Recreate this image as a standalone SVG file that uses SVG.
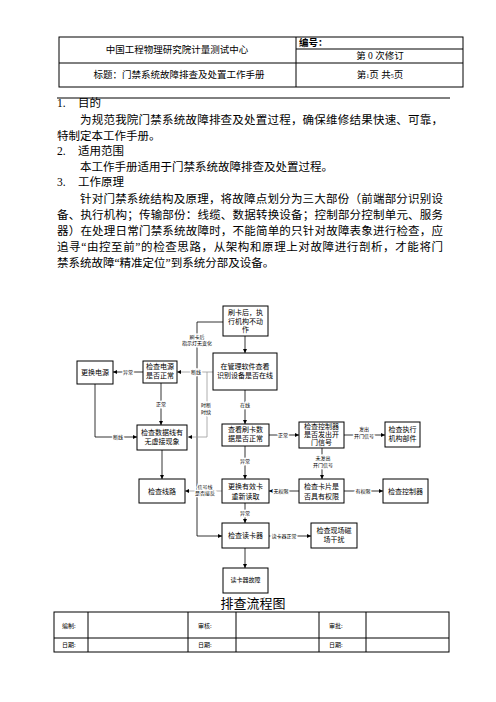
<svg xmlns="http://www.w3.org/2000/svg" width="496" height="702" viewBox="0 0 496 702">
<style>
text{font-family:"Liberation Serif","Noto Sans CJK SC",serif;fill:#000}
.h{font-size:9.5px}
.b{font-size:11.5px}
.n{font-size:7px;text-anchor:middle}
.s{font-size:6px;text-anchor:middle}
.l{font-size:5px;text-anchor:middle;stroke:#fff;stroke-width:2.5px;paint-order:stroke}
.box{fill:#fff;stroke:#000;stroke-width:1}
.c{fill:none;stroke:#000;stroke-width:0.8}
.g{fill:none;stroke:#999;stroke-width:0.8}
.t{fill:none;stroke:#000;stroke-width:1}
</style>
<defs>
<marker id="a" viewBox="0 0 6 6" refX="6" refY="3" markerWidth="4" markerHeight="4" orient="auto" markerUnits="userSpaceOnUse"><path d="M0,0L6,3L0,6z" fill="#000"/></marker>
</defs>
<rect width="496" height="702" fill="#fff"/>
<g id="header">
<rect class="t" x="59" y="37" width="404" height="50"/>
<line class="t" x1="296" y1="37" x2="296" y2="87"/>
<line class="t" x1="59" y1="63" x2="463" y2="63"/>
<line class="t" x1="296" y1="49" x2="463" y2="49"/>
<text class="h" x="177" y="53" text-anchor="middle">中国工程物理研究院计量测试中心</text>
<text class="h" x="179" y="78" text-anchor="middle">标题：门禁系统故障排查及处置工作手册</text>
<text class="h" x="299" y="46" font-weight="bold">编号：</text>
<text class="h" x="380" y="59" text-anchor="middle">第 0 次修订</text>
<text class="h" x="380" y="78" text-anchor="middle">第<tspan font-size="6">1</tspan>页  共<tspan font-size="6">5</tspan>页</text>
<line x1="57" y1="98" x2="450" y2="98" stroke="#000" stroke-width="1"/>
</g>
<g id="body">
<text class="b" x="57" y="107">1.</text><text class="b" x="78" y="107">目的</text>
<text class="b" x="80" y="124" textLength="363" lengthAdjust="spacing">为规范我院门禁系统故障排查及处置过程，确保维修结果快速、可靠，</text>
<text class="b" x="57" y="140">特制定本工作手册。</text>
<text class="b" x="57" y="155">2.</text><text class="b" x="78" y="155">适用范围</text>
<text class="b" x="80" y="171">本工作手册适用于门禁系统故障排查及处置过程。</text>
<text class="b" x="57" y="186">3.</text><text class="b" x="78" y="186">工作原理</text>
<text class="b" x="80" y="203" textLength="363" lengthAdjust="spacing">针对门禁系统结构及原理，将故障点划分为三大部份（前端部分识别设</text>
<text class="b" x="57" y="219" textLength="386" lengthAdjust="spacing">备、执行机构；传输部份：线缆、数据转换设备；控制部分控制单元、服务</text>
<text class="b" x="57" y="235" textLength="386" lengthAdjust="spacing">器）在处理日常门禁系统故障时，不能简单的只针对故障表象进行检查，应</text>
<text class="b" x="57" y="251" textLength="386" lengthAdjust="spacing">追寻“由控至前”的检查思路，从架构和原理上对故障进行剖析，才能将门</text>
<text class="b" x="57" y="267">禁系统故障“精准定位”到系统分部及设备。</text>
</g>
<g id="connectors">
<path class="c" d="M245,336V353" marker-end="url(#a)"/>
<path class="c" d="M223,322H197V536H222" marker-end="url(#a)"/>
<path class="g" d="M213,372H177" marker-end="url(#a)"/>
<path class="g" d="M207,372V437H188" marker-end="url(#a)"/>
<path class="c" d="M143,372H113" marker-end="url(#a)"/>
<path class="c" d="M161,383V425" marker-end="url(#a)"/>
<path class="c" d="M95,384V437H137" marker-end="url(#a)"/>
<path class="c" d="M162,450V479" marker-end="url(#a)"/>
<path class="c" d="M245,390V424" marker-end="url(#a)"/>
<path class="c" d="M245,446V479" marker-end="url(#a)"/>
<path class="g" d="M222,491H185" marker-end="url(#a)"/>
<path class="c" d="M245,503V523" marker-end="url(#a)"/>
<path class="c" d="M269,536H311" marker-end="url(#a)"/>
<path class="c" d="M245,548V568" marker-end="url(#a)"/>
<path class="c" d="M269,435H299" marker-end="url(#a)"/>
<path class="c" d="M344,435H385" marker-end="url(#a)"/>
<path class="c" d="M322,448V479" marker-end="url(#a)"/>
<path class="c" d="M299,491H269" marker-end="url(#a)"/>
<path class="c" d="M344,491H383" marker-end="url(#a)"/>
<text class="l" x="197" y="339">刷卡后</text>
<text class="l" x="197" y="345">指示灯无变化</text>
<text class="l" x="196" y="374">断线</text>
<text class="l" x="206" y="407">时断</text>
<text class="l" x="206" y="414">时续</text>
<text class="l" x="128" y="374">异常</text>
<text class="l" x="161" y="406">正常</text>
<text class="l" x="118" y="439">断线</text>
<text class="l" x="245" y="407">在线</text>
<text class="l" x="245" y="463">异常</text>
<text class="l" x="205" y="489">信号线</text>
<text class="l" x="205" y="495">是否接反</text>
<text class="l" x="245" y="515">异常</text>
<text class="l" x="284" y="538">读卡器正常</text>
<text class="l" x="283" y="437">正常</text>
<text class="l" x="364" y="431">发出</text>
<text class="l" x="364" y="438">开门信号</text>
<text class="l" x="323" y="460">未发出</text>
<text class="l" x="323" y="467">开门信号</text>
<text class="l" x="281" y="493">无权限</text>
<text class="l" x="363" y="493">有权限</text>
</g>
<g id="n1"><rect class="box" x="223" y="306" width="45" height="30"/>
<text class="n" x="245.5" y="315">刷卡后，执</text><text class="n" x="245.5" y="324">行机构不动</text><text class="n" x="245.5" y="332">作</text></g>
<g id="n2"><rect class="box" x="213" y="353" width="64" height="37"/>
<text class="n" x="245" y="369">在管理软件查看</text><text class="n" x="245" y="378">识别设备是否在线</text></g>
<g id="n3"><rect class="box" x="77" y="361" width="36" height="23"/>
<text class="n" x="95" y="375">更换电源</text></g>
<g id="n4"><rect class="box" x="143" y="361" width="34" height="22"/>
<text class="n" x="160" y="369">检查电源</text><text class="n" x="160" y="378">是否正常</text></g>
<g id="n5"><rect class="box" x="137" y="425" width="50" height="25"/>
<text class="n" x="162" y="435">检查数据线有</text><text class="n" x="162" y="444">无虚接现象</text></g>
<g id="n6"><rect class="box" x="139" y="479" width="46" height="24"/>
<text class="n" x="162" y="494">检查线路</text></g>
<g id="n7"><rect class="box" x="222" y="424" width="47" height="22"/>
<text class="n" x="245.5" y="432">查看刷卡数</text><text class="n" x="245.5" y="441">据是否正常</text></g>
<g id="n8"><rect class="box" x="222" y="479" width="47" height="24"/>
<text class="n" x="245.5" y="489">更换有效卡</text><text class="n" x="245.5" y="499">重新读取</text></g>
<g id="n9"><rect class="box" x="222" y="523" width="47" height="25"/>
<text class="n" x="245.5" y="538">检查读卡器</text></g>
<g id="n10"><rect class="box" x="311" y="523" width="46" height="25"/>
<text class="n" x="334" y="533">检查现场磁</text><text class="n" x="334" y="542">场干扰</text></g>
<g id="n11"><rect class="box" x="223" y="568" width="45" height="25"/>
<text class="s" x="245.5" y="582">读卡器故障</text></g>
<g id="n12"><rect class="box" x="299" y="422" width="45" height="26"/>
<text class="n" x="321.5" y="429">检查控制器</text><text class="n" x="321.5" y="437">是否发出开</text><text class="n" x="321.5" y="445">门信号</text></g>
<g id="n13"><rect class="box" x="385" y="422" width="35" height="25"/>
<text class="n" x="402.5" y="432">检查执行</text><text class="n" x="402.5" y="441">机构部件</text></g>
<g id="n14"><rect class="box" x="299" y="479" width="45" height="24"/>
<text class="n" x="321.5" y="489">检查卡片是</text><text class="n" x="321.5" y="499">否具有权限</text></g>
<g id="n15"><rect class="box" x="383" y="479" width="45" height="24"/>
<text class="n" x="405.5" y="494">检查控制器</text></g>
<text x="253" y="608" font-size="13" text-anchor="middle">排查流程图</text>
<g id="footer">
<rect class="t" x="54" y="612" width="395" height="40"/>
<line class="t" x1="54" y1="638" x2="449" y2="638"/>
<line class="t" x1="88" y1="612" x2="88" y2="652"/>
<line class="t" x1="188" y1="612" x2="188" y2="652"/>
<line class="t" x1="236" y1="612" x2="236" y2="652"/>
<line class="t" x1="319" y1="612" x2="319" y2="652"/>
<line class="t" x1="366" y1="612" x2="366" y2="652"/>
<text x="62" y="628" font-size="6">编制:</text>
<text x="62" y="647" font-size="6">日期:</text>
<text x="198" y="628" font-size="6">审核:</text>
<text x="198" y="647" font-size="6">日期:</text>
<text x="329" y="628" font-size="6">审批:</text>
<text x="329" y="647" font-size="6">日期:</text>
</g>
</svg>
